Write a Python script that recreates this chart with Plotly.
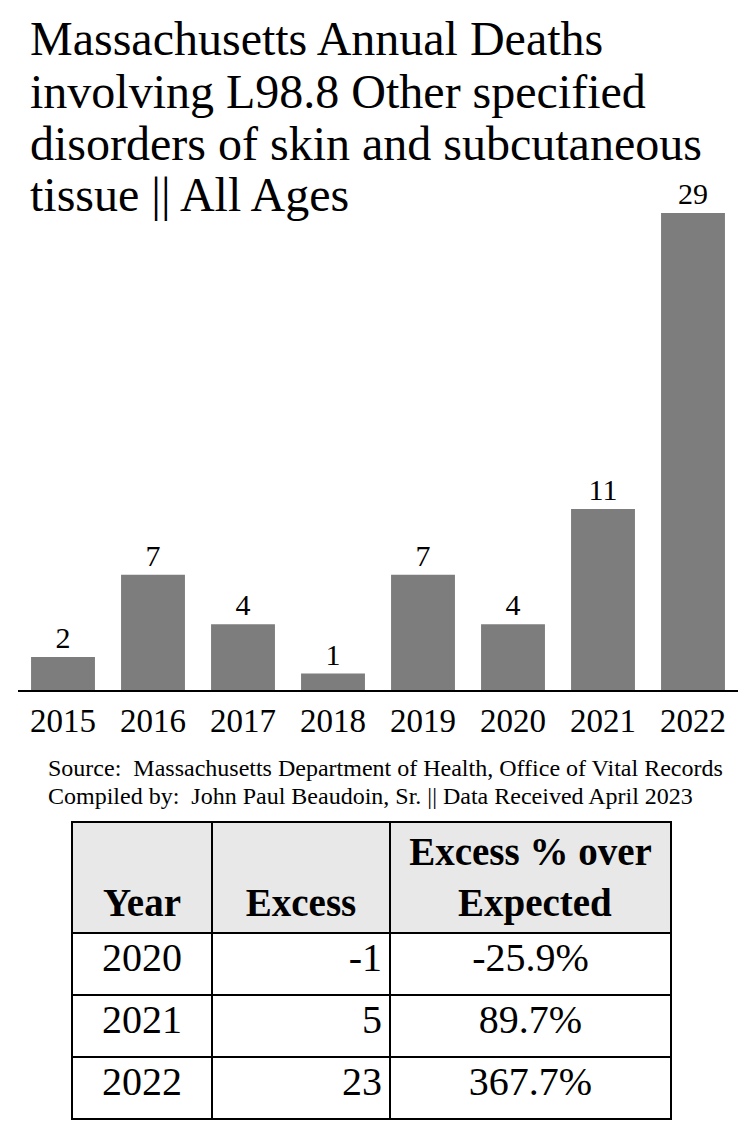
import plotly.graph_objects as go

years = ["2015", "2016", "2017", "2018", "2019", "2020", "2021", "2022"]
deaths = [2, 7, 4, 1, 7, 4, 11, 29]

title_lines = [
    "Massachusetts Annual Deaths",
    "involving L98.8 Other specified",
    "disorders of skin and subcutaneous",
    "tissue || All Ages",
]
source_lines = [
    "Source:  Massachusetts Department of Health, Office of Vital Records",
    "Compiled by:  John Paul Beaudoin, Sr. || Data Received April 2023",
]

table_years = ["2020", "2021", "2022"]
table_excess = ["-1", "5", "23"]
table_pct = ["-25.9%", "89.7%", "367.7%"]
table_headers = ["\u00a0<br><b>Year</b>", "\u00a0<br><b>Excess</b>",
                 "<b>Excess % over</b><br><b>" + "\u00a0" * 5 + "Expected</b>"]

OFF = 8  # page body margin
W, H = 754 - OFF, 1130 - OFF
ML, MR = 18 - OFF, W - (738 - OFF)
PW = W - ML - MR
SERIF = "Liberation Serif, Times New Roman, serif"


def px_x(x):
    return (x - OFF - ML) / PW


def px_y(y):
    return (H - (y - OFF)) / H


fig = go.Figure()
fig.add_trace(go.Bar(
    x=years, y=deaths,
    marker=dict(color="#7d7d7d", line=dict(width=0)),
    text=[str(v) for v in deaths], textposition="outside",
    textfont=dict(family=SERIF, size=30, color="black"),
    cliponaxis=False,
))

fig.add_trace(go.Table(
    domain=dict(x=[px_x(72), px_x(671)], y=[px_y(1120), px_y(822)]),
    columnwidth=[140, 178, 281],
    header=dict(
        values=table_headers,
        fill_color="#e8e8e8",
        line=dict(color="black", width=2),
        align=["center", "center", "center"],
        font=dict(family=SERIF, size=39, color="black"),
        height=110,
    ),
    cells=dict(
        values=[table_years, table_excess, table_pct],
        fill_color="white",
        line=dict(color="black", width=2),
        align=["center", "right", "center"],
        font=dict(family=SERIF, size=40, color="black"),
        height=62,
    ),
))

annotations = []
title_base = [53, 105, 157, 209]
for line, b in zip(title_lines, title_base):
    annotations.append(dict(
        text=line, xref="paper", yref="paper", x=px_x(28), y=px_y(b - 14),
        xanchor="left", yanchor="middle", showarrow=False,
        font=dict(family=SERIF, size=48, color="black"),
    ))
src_base = [776, 804]
for line, b in zip(source_lines, src_base):
    annotations.append(dict(
        text=line, xref="paper", yref="paper", x=px_x(46), y=px_y(b - 8),
        xanchor="left", yanchor="middle", showarrow=False,
        font=dict(family=SERIF, size=24, color="black"),
    ))

fig.update_layout(
    width=W, height=H,
    margin=dict(l=ML, r=MR, t=0, b=0),
    paper_bgcolor="white", plot_bgcolor="white",
    showlegend=False,
    bargap=0.29,
    annotations=annotations,
    xaxis=dict(
        domain=[0, 1], range=[-0.5, 7.5], type="category",
        showline=True, linecolor="black", linewidth=2,
        ticks="", showgrid=False, zeroline=False,
        tickfont=dict(family=SERIF, size=33, color="black"),
    ),
    yaxis=dict(
        domain=[px_y(690), px_y(180)], range=[0, 31],
        visible=False, showgrid=False, zeroline=False,
    ),
)

fig.write_html("out.html")
